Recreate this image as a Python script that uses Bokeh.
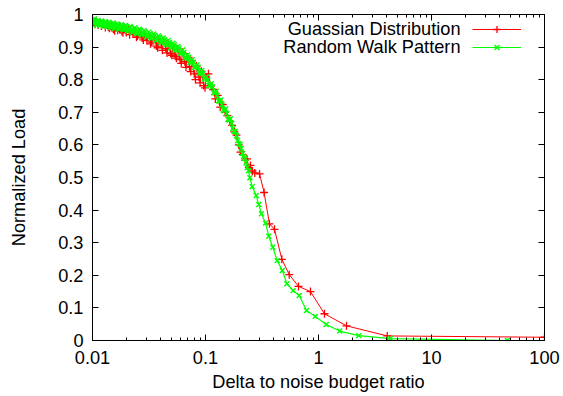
from bokeh.plotting import figure
from bokeh.models import (Range1d, FixedTicker, LinearAxis, LogAxis, Legend, LegendItem,
                          Label, CustomJSTickFormatter)
from bokeh.embed import file_html
from bokeh.resources import INLINE

# ---------------- data ----------------
gauss_x = [0.0100, 0.0102, 0.0105, 0.0108, 0.0112, 0.0116, 0.0120, 0.0125, 0.0130, 0.0135,
           0.0138, 0.0141, 0.0147, 0.0153, 0.0157, 0.0160, 0.0167, 0.0174, 0.0182, 0.0186,
           0.0190, 0.0199, 0.0208, 0.0213, 0.0218, 0.0228, 0.0239, 0.0245, 0.0250, 0.0262,
           0.0275, 0.0282, 0.0289, 0.0303, 0.0318, 0.0326, 0.0334, 0.0351, 0.0368, 0.0377,
           0.0386, 0.0405, 0.0415, 0.0425, 0.0446, 0.0457, 0.0468, 0.0491, 0.0503, 0.0515,
           0.0540, 0.0553, 0.0567, 0.0595, 0.0610, 0.0625, 0.0656, 0.0672, 0.0688, 0.0722,
           0.0740, 0.0758, 0.0795, 0.0815, 0.0834, 0.0875, 0.0896, 0.0918, 0.0964, 0.0990,
           0.1012, 0.1062, 0.1114, 0.1169, 0.1222, 0.1282, 0.1350, 0.1420,
           0.1490, 0.1560, 0.1640, 0.1720, 0.1800, 0.1880, 0.1970, 0.2040, 0.2140, 0.2240,
           0.2330, 0.2420, 0.2500, 0.2600,
           0.273, 0.301, 0.330, 0.368, 0.408, 0.474, 0.551, 0.665, 0.849, 1.13, 1.77, 4.06, 100.0]
gauss_y = [0.985, 0.976, 0.970, 0.979, 0.968, 0.975, 0.965, 0.972, 0.960, 0.969,
           0.962, 0.958, 0.966, 0.955, 0.950, 0.963, 0.952, 0.960, 0.948, 0.944,
           0.957, 0.945, 0.954, 0.938, 0.950, 0.940, 0.951, 0.930, 0.934, 0.946,
           0.928, 0.922, 0.941, 0.920, 0.937, 0.910, 0.915, 0.931, 0.903, 0.898,
           0.925, 0.912, 0.890, 0.920, 0.895, 0.882, 0.911, 0.880, 0.875, 0.903,
           0.872, 0.866, 0.894, 0.862, 0.850, 0.884, 0.855, 0.838, 0.870, 0.840,
           0.825, 0.858, 0.818, 0.800, 0.842, 0.808, 0.790, 0.826, 0.782, 0.775,
           0.808, 0.818, 0.780, 0.770, 0.741, 0.752, 0.716, 0.724,
           0.700, 0.690, 0.672, 0.660, 0.640, 0.630, 0.600, 0.578, 0.570, 0.553,
           0.557, 0.530, 0.537, 0.520,
           0.514, 0.511, 0.454, 0.358, 0.341, 0.249, 0.202, 0.166, 0.150, 0.082, 0.045, 0.014, 0.010]

walk_x = [0.0100, 0.0101, 0.0103, 0.0104, 0.0106, 0.0108, 0.0110, 0.0112, 0.0114, 0.0116,
          0.0118, 0.0120, 0.0122, 0.0125, 0.0127, 0.0130, 0.0132, 0.0135, 0.0137, 0.0140,
          0.0143, 0.0146, 0.0149, 0.0152, 0.0155, 0.0158, 0.0162, 0.0165, 0.0169, 0.0172,
          0.0176, 0.0180, 0.0184, 0.0188, 0.0192, 0.0196, 0.0201, 0.0205, 0.0210, 0.0215,
          0.0220, 0.0225, 0.0231, 0.0236, 0.0242, 0.0248, 0.0254, 0.0260, 0.0266, 0.0272,
          0.0279, 0.0286, 0.0293, 0.0300, 0.0308, 0.0315, 0.0323, 0.0331, 0.0339, 0.0347,
          0.0356, 0.0365, 0.0374, 0.0383, 0.0393, 0.0403, 0.0413, 0.0423, 0.0434, 0.0445,
          0.0456, 0.0467, 0.0479, 0.0491, 0.0503, 0.0515, 0.0528, 0.0541, 0.0555, 0.0569,
          0.0583, 0.0597, 0.0612, 0.0627, 0.0643, 0.0659, 0.0675, 0.0692, 0.0709, 0.0726,
          0.0744, 0.0762, 0.0781, 0.0800, 0.0820, 0.0840, 0.0861, 0.0882, 0.0904, 0.0926,
          0.0949, 0.0972, 0.0996, 0.1021, 0.1046, 0.1072, 0.1098, 0.1125, 0.1153, 0.1182,
          0.1211, 0.1241, 0.1271, 0.1303, 0.1335, 0.1368, 0.1402, 0.1437, 0.1472, 0.1509,
          0.1546, 0.1584, 0.1623, 0.1663, 0.1704, 0.1746, 0.1789, 0.1833, 0.1878, 0.1925,
          0.1972, 0.2021, 0.2071, 0.2123, 0.2175, 0.2229, 0.2283, 0.2340, 0.2397,
          0.247, 0.259, 0.281, 0.296, 0.313, 0.340, 0.363, 0.394, 0.431, 0.478,
          0.525, 0.597, 0.675, 0.783, 0.935, 1.17, 1.54, 2.27, 4.33, 47.0]
walk_y = [0.983, 0.975, 0.972, 0.986, 0.980, 0.968, 0.970, 0.982, 0.978, 0.966,
          0.969, 0.980, 0.977, 0.964, 0.966, 0.978, 0.974, 0.962, 0.965, 0.976,
          0.972, 0.959, 0.962, 0.974, 0.970, 0.957, 0.960, 0.971, 0.968, 0.955,
          0.957, 0.969, 0.965, 0.952, 0.955, 0.966, 0.962, 0.949, 0.952, 0.963,
          0.959, 0.945, 0.948, 0.959, 0.955, 0.941, 0.944, 0.955, 0.951, 0.937,
          0.940, 0.950, 0.946, 0.932, 0.935, 0.946, 0.941, 0.926, 0.930, 0.940,
          0.936, 0.920, 0.924, 0.934, 0.930, 0.914, 0.917, 0.928, 0.923, 0.906,
          0.910, 0.920, 0.915, 0.898, 0.902, 0.912, 0.907, 0.890, 0.893, 0.902,
          0.897, 0.880, 0.882, 0.891, 0.884, 0.866, 0.868, 0.876, 0.869, 0.852,
          0.854, 0.861, 0.854, 0.837, 0.839, 0.845, 0.838, 0.820, 0.822, 0.828,
          0.819, 0.802, 0.803, 0.808, 0.799, 0.782, 0.783, 0.788, 0.778, 0.760,
          0.760, 0.765, 0.752, 0.735, 0.734, 0.738, 0.724, 0.707, 0.705, 0.710,
          0.696, 0.678, 0.676, 0.680, 0.666, 0.650, 0.642, 0.641, 0.628, 0.613,
          0.604, 0.601, 0.589, 0.574, 0.565, 0.559, 0.546, 0.530, 0.521,
          0.499, 0.472, 0.445, 0.417, 0.389, 0.360, 0.320, 0.286, 0.245, 0.215,
          0.174, 0.153, 0.138, 0.092, 0.074, 0.049, 0.029, 0.015, 0.006, 0.000]

series_names = ["Guassian Distribution", "Random Walk Pattern"]
x_ticks = [0.01, 0.1, 1, 10, 100]
x_tick_labels = ["0.01", "0.1", "1", "10", "100"]
y_ticks = [0.0, 0.1, 0.2, 0.3, 0.4, 0.5, 0.6, 0.7, 0.8, 0.9, 1.0]
y_tick_labels = ["0", "0.1", "0.2", "0.3", "0.4", "0.5", "0.6", "0.7", "0.8", "0.9", "1"]
x_label = "Delta to noise budget ratio"
y_label = "Normalized Load"

# ---------------- styling ----------------
FONT = "Liberation Sans"
FS = "18.2px"
RED = "#ff0000"
GREEN = "#00ff00"

x_minor = [m * d for d in x_ticks[:-1] for m in range(2, 10)]

p = figure(width=563, height=396, x_axis_type="log", output_backend="svg",
           toolbar_location=None, x_range=Range1d(0.01, 100), y_range=Range1d(0, 1),
           min_border_left=92, min_border_right=19, min_border_top=14, min_border_bottom=56)
p.background_fill_color = "white"
p.border_fill_color = "white"
p.outline_line_color = "black"
p.outline_line_width = 1
p.grid.visible = False

xt = FixedTicker(ticks=x_ticks, minor_ticks=x_minor)
yt = FixedTicker(ticks=y_ticks, minor_ticks=[])

def style_axis(ax):
    ax.axis_line_color = "black"
    ax.major_tick_line_color = "black"
    ax.minor_tick_line_color = "black"
    ax.major_tick_in = 6
    ax.major_tick_out = 0
    ax.minor_tick_in = 3
    ax.minor_tick_out = 0
    ax.major_label_text_font = FONT
    ax.major_label_text_font_size = FS
    ax.major_label_text_color = "black"
    ax.axis_label_text_font = FONT
    ax.axis_label_text_font_size = FS
    ax.axis_label_text_font_style = "normal"
    ax.axis_label_text_color = "black"

xa = p.xaxis[0]
xa.ticker = xt
style_axis(xa)
xa.major_label_overrides = {t: s for t, s in zip(x_ticks, x_tick_labels)}
xa.major_label_standoff = 10
xa.axis_label = x_label
xa.axis_label_standoff = 5

ya = p.yaxis[0]
ya.ticker = yt
style_axis(ya)
ya.major_label_overrides = {t: s for t, s in zip(y_ticks, y_tick_labels)}
ya.major_label_standoff = 9
ya.axis_label = y_label
ya.axis_label_standoff = 26

blank = CustomJSTickFormatter(code="return ''")
top = LogAxis(ticker=xt, formatter=blank)
style_axis(top)
top.major_label_text_font_size = "1px"
top.major_label_standoff = 0
p.add_layout(top, "above")

right = LinearAxis(ticker=yt, formatter=blank)
style_axis(right)
right.major_label_text_font_size = "1px"
right.major_label_standoff = 0
p.add_layout(right, "right")

# ---------------- data marks ----------------
r_line = p.line(gauss_x, gauss_y, line_color=RED, line_width=1)
r_pts = p.scatter(gauss_x, gauss_y, marker="cross", size=8, line_color=RED, line_width=1.3)
g_line = p.line(walk_x, walk_y, line_color=GREEN, line_width=1.2)
g_pts = p.scatter(walk_x, walk_y, marker="x", size=7, line_color=GREEN, line_width=1.4)

# ---------------- legend (gnuplot style: text left of sample) ----------------
legend = Legend(items=[LegendItem(label=" ", renderers=[r_line, r_pts]),
                       LegendItem(label=" ", renderers=[g_line, g_pts])],
                location=(380, 284), orientation="vertical",
                glyph_width=49, glyph_height=18, label_width=0, label_height=18,
                label_standoff=0, label_text_font_size="12px",
                spacing=0, padding=0, margin=0,
                border_line_color=None, background_fill_color=None)
p.add_layout(legend)

for i, name in enumerate(series_names):
    p.add_layout(Label(x=368, y=311.5 - 18.4 * i, x_units="screen", y_units="screen",
                       text=name, text_align="right", text_baseline="middle",
                       text_font=FONT, text_font_size=FS, text_color="black"))

open("out.html", "w").write(file_html(p, INLINE))
